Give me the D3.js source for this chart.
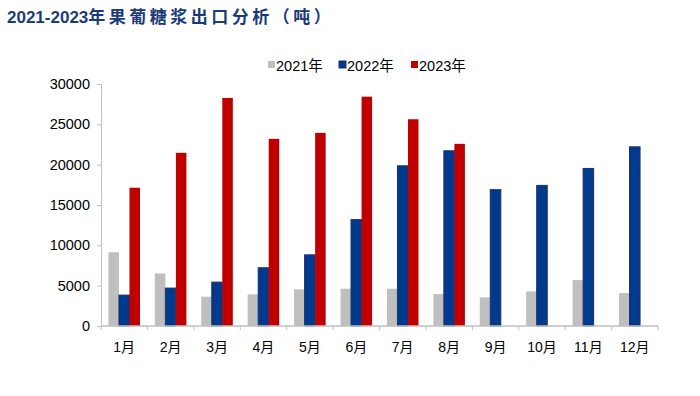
<!DOCTYPE html>
<html>
<head>
<meta charset="utf-8">
<script src="https://cdn.jsdelivr.net/npm/d3@7"></script>
<style>
	body { margin: 0; background: #fff; }
	svg { display: block; font-family: "Liberation Sans", Arial, "Noto Sans CJK SC", sans-serif; }
</style>
</head>
<body>
<svg id="chart" width="700" height="396"></svg>
<script>
// monthly export volume, tonnes
const months = ["1月", "2月", "3月", "4月", "5月", "6月", "7月", "8月", "9月", "10月", "11月", "12月"];
const years = ["2021年", "2022年", "2023年"];
const v2021 = [9140, 6510, 3630, 3920, 4540, 4620, 4620, 3960, 3550, 4290, 5690, 4080];
const v2022 = [3830, 4700, 5440, 7220, 8820, 13190, 19860, 21720, 16900, 17430, 19530, 22210];
const v2023 = [17140, 21470, 28270, 23200, 23940, 28430, 25630, 22580, null, null, null, null];
const yTicks = [0, 5000, 10000, 15000, 20000, 25000, 30000];

const series = [v2021, v2022, v2023];
const fills = ["#bfbfbf", "#003a8c", "#c00000"];
const strokes = ["none", "#1b2f6e", "none"];

let svg = d3.select("#chart");

// title
let title = svg.append("text").attr("x", 7).attr("y", 23)
	.attr("fill", "#1b3a7a").attr("font-size", 17).attr("font-weight", "bold");
title.append("tspan").text("2021-2023");
title.append("tspan").attr("letter-spacing", 3.5).text("年果葡糖浆出口分析（吨）");

let margin = {left: 101, right: 42, top: 84, bottom: 70};
let w = 700 - margin.left - margin.right;
let h = 396 - margin.top - margin.bottom;

let g = svg.append("g").attr("transform", `translate(${margin.left},${margin.top})`);

let x = d3.scaleBand().domain(months).range([0, w]).paddingInner(0.32).paddingOuter(0.16);
let xs = d3.scaleBand().domain(years).range([0, x.bandwidth()]);
let y = d3.scaleLinear().domain([0, 30000]).range([h, 0]);

// y axis
let ya = g.append("g").call(d3.axisLeft(y).tickValues(yTicks).tickSize(4).tickPadding(7).tickFormat(d3.format("d")));
ya.select(".domain").attr("stroke", "#bfbfbf");
ya.selectAll(".tick line").attr("stroke", "#bfbfbf");
ya.selectAll("text").attr("font-size", 14.5).attr("fill", "#000").attr("font-family", "Liberation Sans, Arial, sans-serif");

// bars
series.forEach((vals, si) => {
	g.append("g").selectAll("rect")
		.data(months.map((m, i) => ({m: m, v: vals[i]})).filter(d => d.v != null))
		.enter().append("rect")
		.attr("x", d => x(d.m) + xs(years[si]))
		.attr("y", d => y(d.v))
		.attr("width", xs.bandwidth())
		.attr("height", d => h - y(d.v))
		.attr("fill", fills[si])
		.attr("stroke", strokes[si])
		.attr("stroke-width", 1);
});

// x axis
let step = x.step();
let xa = g.append("g").attr("transform", `translate(0,${h})`);
xa.append("line").attr("x1", 0).attr("x2", w).attr("stroke", "#bfbfbf").attr("stroke-width", 1.5);
xa.selectAll(".tk").data(d3.range(months.length + 1)).enter().append("line")
	.attr("x1", i => i * w / months.length).attr("x2", i => i * w / months.length)
	.attr("y1", 0).attr("y2", 4).attr("stroke", "#bfbfbf");
xa.selectAll("text").data(months).enter().append("text")
	.attr("x", d => x(d) + x.bandwidth() / 2)
	.attr("y", 26)
	.attr("text-anchor", "middle")
	.attr("font-size", 14)
	.attr("fill", "#000")
	.text(d => d);

// legend
let legX = [268, 339, 411];
years.forEach((yr, i) => {
	svg.append("rect").attr("x", legX[i]).attr("y", 61).attr("width", 7).attr("height", 7)
		.attr("fill", fills[i]).attr("stroke", strokes[i]);
	svg.append("text").attr("x", legX[i] + 8).attr("y", 71).attr("font-size", 14.5)
		.attr("fill", "#000").text(yr);
});
</script>
</body>
</html>
